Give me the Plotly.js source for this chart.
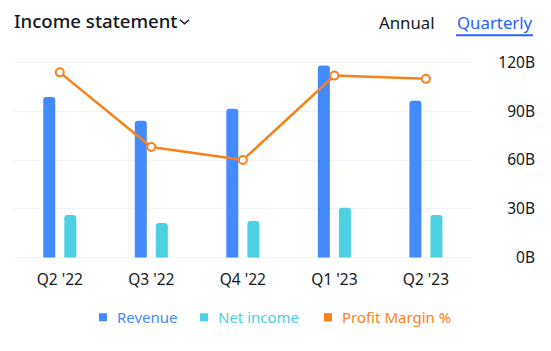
<!DOCTYPE html>
<html>
<head>
<meta charset="utf-8">
<script src="https://cdn.plot.ly/plotly-3.0.1.min.js"></script>
<style>html,body{margin:0;padding:0;background:#fff;}#chart{width:551px;height:351px;}</style>
</head>
<body>
<div id="chart"></div>
<script>
const categories = ["Q2 '22", "Q3 '22", "Q4 '22", "Q1 '23", "Q2 '23"];
const revenue = [98.8, 84.2, 91.6, 118.2, 96.5];
const netIncome = [26.1, 21.2, 22.4, 30.6, 26.1];
const profitMargin = [25.7, 23.4, 23.0, 25.6, 25.5];
const yTicks = [0, 30, 60, 90, 120];
const yTickLabels = ["0B", "30B", "60B", "90B", "120B"];
const seriesNames = ["Revenue", "Net income", "Profit Margin %"];

const BLUE = '#448AFF', CYAN = '#4DD0E1', ORANGE = '#F7821B';
const seriesColors = [BLUE, CYAN, ORANGE];
const FONT = 'Noto Sans, sans-serif';
const TXT = '#131722';

const traces = [
  {type:'bar', name:seriesNames[0], x:categories, y:revenue,
   marker:{color:BLUE, cornerradius:3}, hoverinfo:'skip'},
  {type:'bar', name:seriesNames[1], x:categories, y:netIncome,
   marker:{color:CYAN, cornerradius:3}, hoverinfo:'skip'},
  {type:'scatter', mode:'lines+markers', name:seriesNames[2], x:categories, y:profitMargin, yaxis:'y2',
   line:{color:ORANGE, width:2.5}, marker:{symbol:'circle', size:8, color:'#fff', line:{color:ORANGE, width:2}},
   hoverinfo:'skip'}
];

const W = 551, H = 351;
const L = 14, R = 14;
const T = 61.4, B = 351 - 258.9;
const pw = W - L - R, ph = H - T - B;
const px = v => (v - L) / pw;
const py = v => (H - B - v) / ph;

// legend built from series names/colors
const legendSquareX = [99, 200, 324];
const legendTextX = [115, 215.5, 339.5];
const legendY = 317;
const shapes = [
  {type:'line', xref:'paper', yref:'paper', x0:px(456), x1:px(533), y0:py(35.7), y1:py(35.7), line:{color:'#2962FF', width:2}},
  {type:'path', xref:'paper', yref:'paper',
   path:'M '+px(180)+','+py(20.2)+' L '+px(184.5)+','+py(24.2)+' L '+px(189)+','+py(20.2),
   line:{color:TXT, width:1.4}}
];
const annotations = [
  {text:'Annual', xref:'paper', yref:'paper', x:px(377), y:py(23), xanchor:'left', yanchor:'middle', showarrow:false,
   font:{size:16.8, color:TXT, family:FONT}},
  {text:'Quarterly', xref:'paper', yref:'paper', x:px(455), y:py(23), xanchor:'left', yanchor:'middle', showarrow:false,
   font:{size:16.8, color:'#2962FF', family:FONT}}
];
seriesNames.forEach((n, i) => {
  shapes.push({type:'rect', xref:'paper', yref:'paper', x0:px(legendSquareX[i]), x1:px(legendSquareX[i]+8),
    y0:py(legendY-4), y1:py(legendY+4), fillcolor:seriesColors[i], line:{width:0}, layer:'above'});
  annotations.push({text:n, xref:'paper', yref:'paper', x:px(legendTextX[i]), y:py(legendY), xanchor:'left', yanchor:'middle',
    showarrow:false, font:{size:15, color:seriesColors[i], family:FONT}});
});

const layout = {
  width:W, height:H,
  margin:{l:L, r:R, t:T, b:B, pad:0},
  paper_bgcolor:'#fff', plot_bgcolor:'#fff',
  font:{family:FONT, color:TXT, size:14},
  barmode:'group', bargap:0.54, bargroupgap:0.43,
  showlegend:false,
  xaxis:{domain:[0, px(471.7)], type:'category', showgrid:false, zeroline:false, showline:false,
    ticks:'', ticklabelstandoff:9, tickfont:{size:15.5, color:TXT}, fixedrange:true},
  yaxis:{range:[-1,121], side:'left', anchor:'free', position:px(535),
    tickvals:yTicks, ticktext:yTickLabels, ticks:'', showline:false, zeroline:true, zerolinecolor:'#F0F3FA', zerolinewidth:1,
    showgrid:true, gridcolor:'#F0F3FA', gridwidth:1, tickfont:{size:15.5, color:TXT}, fixedrange:true},
  yaxis2:{range:[19.95,26.05], overlaying:'y', visible:false, showgrid:false, fixedrange:true},
  title:{text:'Income statement', x:14/W, xref:'container', xanchor:'left', y:1-21.7/H, yref:'container', yanchor:'middle',
    font:{size:18.6, family:FONT, color:TXT, weight:500}},
  annotations:annotations,
  shapes:shapes
};

Plotly.newPlot('chart', traces, layout, {displayModeBar:false, staticPlot:true});
</script>
</body>
</html>
